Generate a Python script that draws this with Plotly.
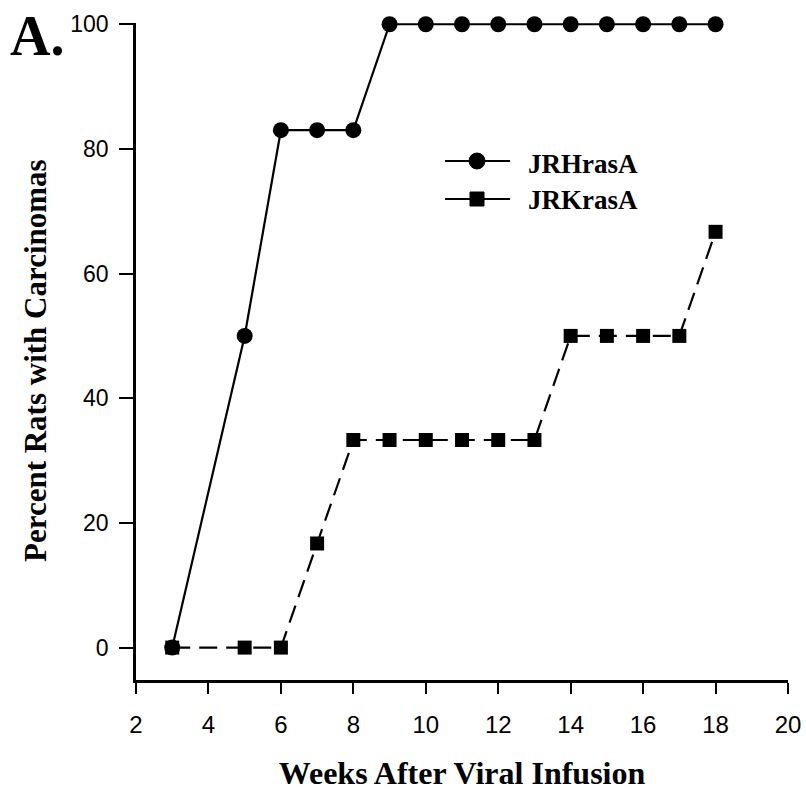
import plotly.graph_objects as go

# Weeks after viral infusion and cumulative percentage of rats with carcinomas
weeks_h = [3, 5, 6, 7, 8, 9, 10, 11, 12, 13, 14, 15, 16, 17, 18]
pct_h = [0, 50, 83, 83, 83, 100, 100, 100, 100, 100, 100, 100, 100, 100, 100]

weeks_k = [3, 5, 6, 7, 8, 9, 10, 11, 12, 13, 14, 15, 16, 17, 18]
pct_k = [0, 0, 0, 16.7, 33.3, 33.3, 33.3, 33.3, 33.3, 33.3, 50, 50, 50, 50, 66.7]

series_names = ["JRHrasA", "JRKrasA"]
x_ticks = [2, 4, 6, 8, 10, 12, 14, 16, 18, 20]
y_ticks = [0, 20, 40, 60, 80, 100]

W, H = 806, 791
ML, MR, MT, MB = 136, 18, 23, 111
PW, PH = W - ML - MR, H - MT - MB

SERIF = "Liberation Serif"
SANS = "Liberation Sans"


def px_x(px):
    return (px - ML) / PW


def px_y(py):
    return (H - MB - py) / PH


fig = go.Figure()

fig.add_trace(go.Scatter(
    x=weeks_k, y=pct_k, mode="lines+markers", name=series_names[1],
    line=dict(color="black", width=2.2, dash="18px,9px"),
    marker=dict(symbol="square", size=14, color="black"),
    cliponaxis=False, showlegend=False,
))
fig.add_trace(go.Scatter(
    x=weeks_h, y=pct_h, mode="lines+markers", name=series_names[0],
    line=dict(color="black", width=2.2),
    marker=dict(symbol="circle", size=16, color="black"),
    cliponaxis=False, showlegend=False,
))

# Key drawn beside the curves: solid line with its marker, then the series name
shapes = []
annotations = []
key_rows = [(161, 164, "circle"), (199, 200, "square")]
for (ly, ty, sym), name in zip(key_rows, series_names):
    shapes.append(dict(type="line", xref="paper", yref="paper",
                       x0=px_x(445), x1=px_x(510), y0=px_y(ly), y1=px_y(ly),
                       line=dict(color="black", width=2.2)))
    half = 8 if sym == "circle" else 7
    shapes.append(dict(type="circle" if sym == "circle" else "rect",
                       xref="paper", yref="paper",
                       xsizemode="pixel", ysizemode="pixel",
                       xanchor=px_x(477), yanchor=px_y(ly),
                       x0=-half, x1=half, y0=-half, y1=half,
                       fillcolor="black", line=dict(color="black", width=1)))
    annotations.append(dict(text=name, xref="paper", yref="paper",
                            x=px_x(526), y=px_y(ty), xanchor="left", yanchor="middle",
                            showarrow=False,
                            font=dict(family=SERIF, size=27, color="black", weight="bold")))

# Panel letter
annotations.append(dict(text="A.", xref="paper", yref="paper",
                        x=px_x(9), y=px_y(4), xanchor="left", yanchor="top",
                        showarrow=False, borderpad=0,
                        font=dict(family=SERIF, size=56, color="black", weight="bold")))

# Vertical axis title
annotations.append(dict(text="Percent Rats with Carcinomas", xref="paper", yref="paper",
                        x=px_x(35), y=px_y(361), xanchor="center", yanchor="middle",
                        textangle=-90, showarrow=False,
                        font=dict(family=SERIF, size=31, color="black", weight="bold")))

fig.update_layout(
    width=W, height=H,
    margin=dict(l=ML, r=MR, t=MT, b=MB, autoexpand=False),
    paper_bgcolor="white", plot_bgcolor="white",
    showlegend=False,
    shapes=shapes, annotations=annotations,
    xaxis=dict(
        range=[2, 20], tickvals=x_ticks, showgrid=False, zeroline=False,
        showline=True, linecolor="black", linewidth=2.5,
        ticks="outside", ticklen=11, tickwidth=2, tickcolor="black",
        ticklabelstandoff=10,
        tickfont=dict(family=SANS, size=24, color="black"),
        title=dict(text="Weeks After Viral Infusion", standoff=26,
                   font=dict(family=SERIF, size=32, color="black", weight="bold")),
    ),
    yaxis=dict(
        range=[-5.2, 100.2], tickvals=y_ticks, showgrid=False, zeroline=False,
        showline=True, linecolor="black", linewidth=2.5,
        ticks="outside", ticklen=14, tickwidth=2, tickcolor="black",
        ticklabelstandoff=6,
        tickfont=dict(family=SANS, size=23, color="black"),
    ),
)

fig.write_html("out.html")
